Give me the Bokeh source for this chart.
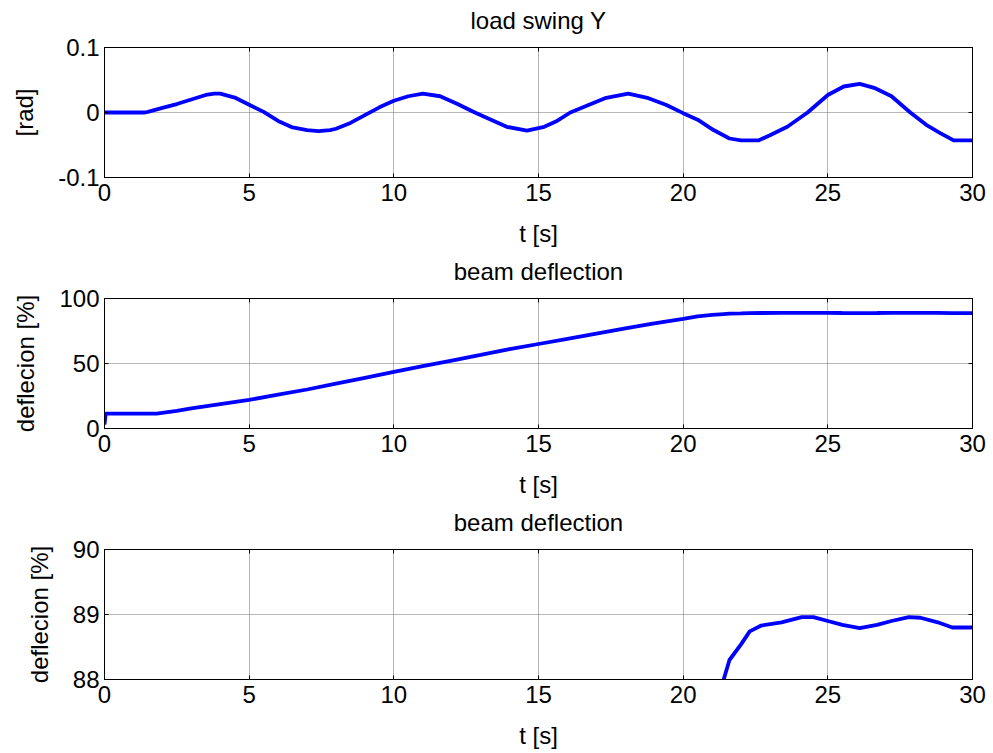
from bokeh.plotting import figure
from bokeh.layouts import column
from bokeh.models import Range1d, FixedTicker, LinearAxis
from bokeh.embed import file_html
from bokeh.resources import INLINE

# ---- data ----
x_ticks = [0, 5, 10, 15, 20, 25, 30]

swing_t = [0.0, 1.4, 1.5, 2.0, 2.5, 3.0, 3.5, 3.8, 4.0, 4.5, 5.0, 5.5, 6.0, 6.5, 7.0, 7.4,
           7.8, 8.0, 8.5, 9.0, 9.5, 10.0, 10.5, 11.0, 11.6, 12.2, 12.8, 13.3, 13.9, 14.6,
           15.2, 15.6, 16.1, 16.75, 17.3, 18.1, 18.8, 19.4, 20.0, 20.5, 21.05, 21.6, 22.0,
           22.6, 23.0, 23.6, 24.3, 25.0, 25.55, 26.1, 26.6, 27.2, 27.85, 28.4, 28.9, 29.35, 30.0]
swing_y = [0.0, 0.0, 0.001, 0.007, 0.013, 0.020, 0.027, 0.029, 0.029, 0.023, 0.012, 0.001,
           -0.013, -0.023, -0.027, -0.0285, -0.027, -0.025, -0.016, -0.004, 0.008, 0.018,
           0.025, 0.029, 0.025, 0.013, 0.0, -0.010, -0.022, -0.028, -0.022, -0.014, 0.0,
           0.012, 0.022, 0.029, 0.022, 0.012, -0.001, -0.011, -0.027, -0.040, -0.043, -0.043,
           -0.035, -0.022, 0.0, 0.027, 0.040, 0.044, 0.038, 0.025, 0.0, -0.019, -0.032, -0.043, -0.043]

beam_t = [0.0, 0.04, 1.8, 2.5, 3.0, 4.0, 5.0, 6.0, 7.0, 8.0, 9.0, 10.0, 11.0, 12.0, 13.0,
          14.0, 15.0, 16.0, 17.0, 18.0, 19.0, 20.0, 20.5, 21.0, 21.4, 21.6, 22.0, 22.3, 22.7,
          23.4, 24.1, 24.5, 25.0, 25.5, 26.1, 26.7, 27.2, 27.8, 28.2, 28.8, 29.3, 30.0]
beam_y = [3.0, 11.5, 11.5, 13.5, 15.5, 18.8, 22.0, 26.0, 30.0, 34.5, 39.0, 43.5, 48.0, 52.3,
          56.6, 61.0, 65.0, 69.0, 73.0, 77.0, 80.8, 84.3, 86.2, 87.4, 88.0, 88.3, 88.54, 88.74,
          88.83, 88.88, 88.96, 88.96, 88.9, 88.84, 88.79, 88.84, 88.9, 88.96, 88.95, 88.88,
          88.8, 88.8]

panels = [
    dict(title="load swing Y", ylabel="[rad]", yr=(-0.1, 0.1), yticks=[-0.1, 0, 0.1],
         ylabels={-0.1: "-0.1", 0: "0", 0.1: "0.1"}, t=swing_t, y=swing_y),
    dict(title="beam deflection", ylabel="deflecion [%]", yr=(0, 100), yticks=[0, 50, 100],
         ylabels={0: "0", 50: "50", 100: "100"}, t=beam_t, y=beam_y),
    dict(title="beam deflection", ylabel="deflecion [%]", yr=(88, 90), yticks=[88, 89, 90],
         ylabels={88: "88", 89: "89", 90: "90"}, t=beam_t, y=beam_y),
]

FONT = "Liberation Sans"
FS = "24px"

figs = []
for cfg in panels:
    p = figure(width=993, height=251, output_backend="svg", toolbar_location=None,
               title=None,
               x_range=Range1d(0, 30), y_range=Range1d(*cfg["yr"]),
               min_border_left=104, min_border_right=21, min_border_top=47,
               min_border_bottom=74)
    p.outline_line_color = "black"
    p.outline_line_width = 1
    p.outline_line_alpha = 1
    p.background_fill_color = "white"
    p.border_fill_color = "white"

    p.line(cfg["t"], cfg["y"], line_color="#0000FF", line_width=3.8)

    for ax in (p.xaxis[0], p.yaxis[0]):
        ax.major_tick_in = 4
        ax.major_tick_out = 0
        ax.minor_tick_line_color = None
        ax.axis_line_color = "black"
        ax.major_tick_line_color = "black"
        ax.major_label_text_font = FONT
        ax.major_label_text_font_size = FS
        ax.major_label_text_color = "black"
        ax.axis_label_text_font = FONT
        ax.axis_label_text_font_size = FS
        ax.axis_label_text_font_style = "normal"
        ax.axis_label_text_color = "black"
    p.xaxis.ticker = FixedTicker(ticks=x_ticks)
    p.yaxis.ticker = FixedTicker(ticks=cfg["yticks"])
    p.yaxis.major_label_overrides = cfg["ylabels"]
    p.xaxis.axis_label = "t [s]"
    p.yaxis.axis_label = cfg["ylabel"]
    p.xaxis.major_label_standoff = 6
    p.xaxis.axis_label_standoff = 16
    p.yaxis.major_label_standoff = 5
    p.yaxis.axis_label_standoff = 17

    # top axis: inward ticks, carries the panel title as its label
    top = LinearAxis(ticker=FixedTicker(ticks=x_ticks), major_tick_in=4, major_tick_out=0,
                     minor_tick_line_color=None, major_label_text_font_size="1px",
                     major_label_text_color=None, major_label_standoff=0,
                     axis_label=cfg["title"], axis_label_text_font=FONT,
                     axis_label_text_font_size=FS, axis_label_text_font_style="normal",
                     axis_label_text_color="black", axis_label_standoff=14)
    right = LinearAxis(ticker=FixedTicker(ticks=cfg["yticks"]),
                       major_tick_in=4, major_tick_out=0, minor_tick_line_color=None,
                       major_label_text_font_size="1px", major_label_text_color=None,
                       major_label_standoff=0)
    p.add_layout(top, "above")
    p.add_layout(right, "right")

    p.xgrid.ticker = FixedTicker(ticks=x_ticks)
    p.ygrid.ticker = FixedTicker(ticks=cfg["yticks"])
    for g in (p.xgrid[0], p.ygrid[0]):
        g.grid_line_color = "#6e6e6e"
        g.grid_line_dash = "1 1"
        g.grid_line_width = 1
    figs.append(p)

layout = column(*figs, spacing=0)
open("out.html", "w").write(file_html(layout, INLINE))
